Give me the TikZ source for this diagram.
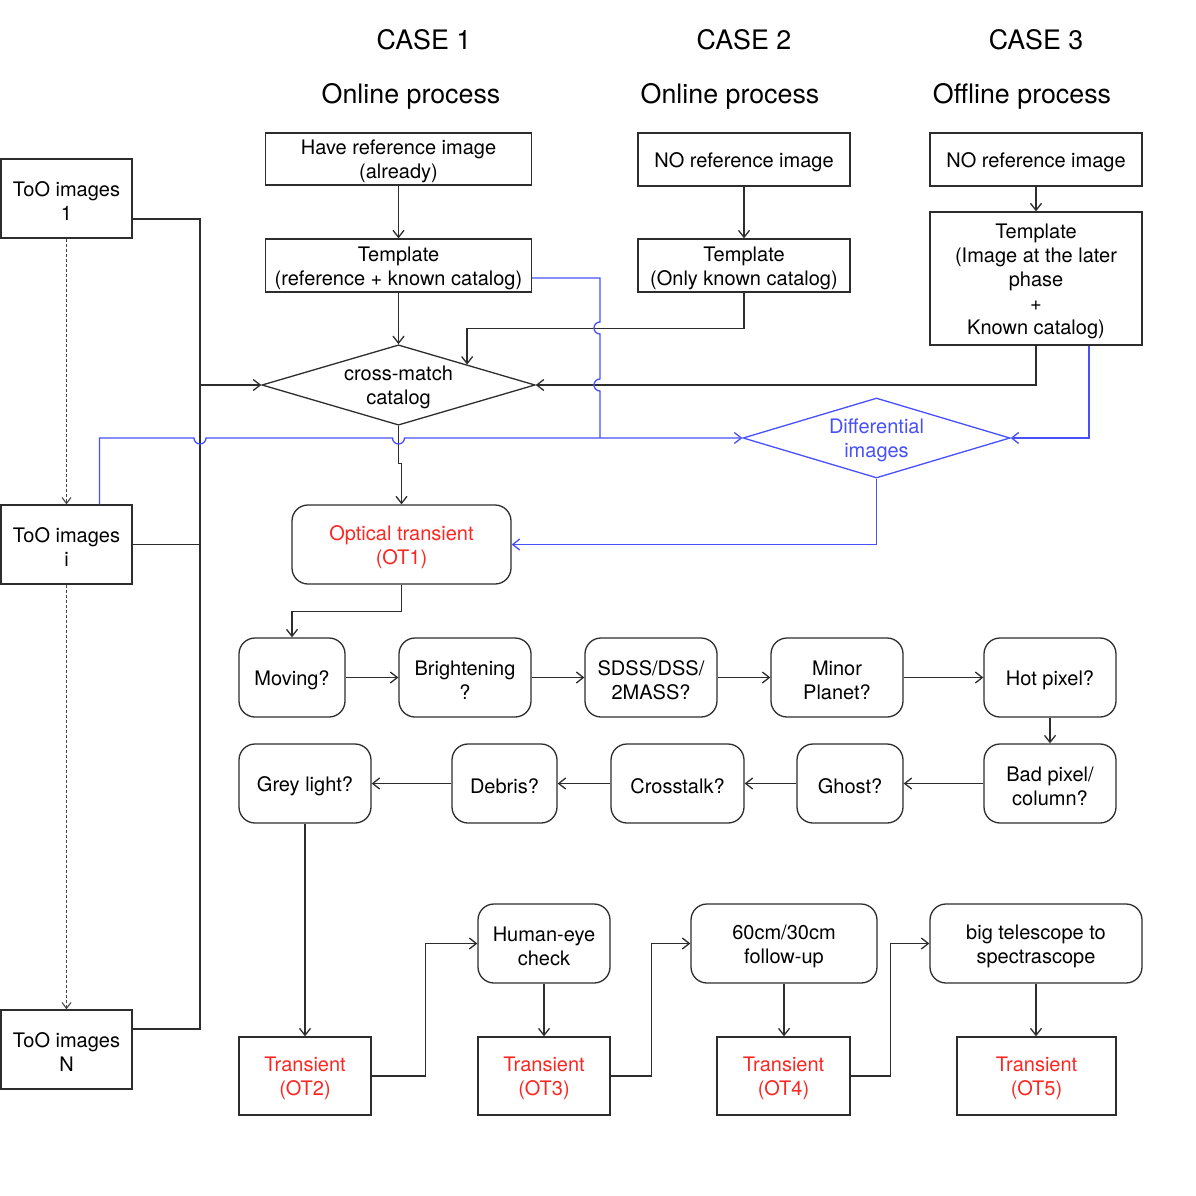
\documentclass[tikz,border=0pt]{standalone}
\usepackage{fontspec}
\setmainfont{TeX Gyre Heros}
\usepackage{tikz}
\usetikzlibrary{shapes.geometric, arrows.meta}
\definecolor{lineblue}{RGB}{72,80,250}
\definecolor{textred}{RGB}{250,40,35}
\definecolor{linegrey}{RGB}{45,45,45}
\definecolor{dotgrey}{RGB}{70,70,70}
\newcommand{\toprule}{\rule{0pt}{20pt}}

\begin{document}
\begin{tikzpicture}[x=1pt, y=-1pt,
  box/.style={rectangle, draw=linegrey, line width=1.3pt, inner sep=0pt, align=center, font=\fontsize{20}{24}\selectfont, execute at begin node={\toprule}},
  rbox/.style={box, rounded corners=16pt},
  dbox/.style={diamond, draw=linegrey, line width=1.3pt, inner sep=0pt, aspect=3.4, align=center, font=\fontsize{20}{24}\selectfont, execute at begin node={\toprule}},
  head/.style={font=\fontsize{26.8}{30}\selectfont},
  conn/.style={draw=linegrey, line width=1.3pt},
  arr/.style={conn, -{Straight Barb[length=7pt,width=11pt]}},
  bconn/.style={conn, draw=lineblue},
  barr/.style={arr, draw=lineblue},
  dotarr/.style={draw=dotgrey, line width=1.1pt, dash pattern=on 3pt off 2pt, -{Straight Barb[length=6pt,width=9pt]}}
]
\useasboundingbox (0,0) rectangle (1196,1196);

% headers
\node[head] (c1) at (424,40) {CASE 1};
\node[head] (p1) at (411,96.5) {Online process};
\node[head] (c2) at (744,40) {CASE 2};
\node[head] (p2) at (730,96.5) {Online process};
\node[head] (c3) at (1036,40) {CASE 3};
\node[head] (p3) at (1022,96.5) {Offline process};

% reference and template boxes
\node[box, minimum width=266pt, minimum height=52pt] (ref1) at (398.5,159) {\toprule Have reference image\\(already)};
\node[box, minimum width=266pt, minimum height=53pt] (tpl1) at (398.5,265.5) {\toprule Template\\(reference + known catalog)};
\node[box, minimum width=212pt, minimum height=53pt] (ref2) at (744,159.5) {NO reference image};
\node[box, minimum width=212pt, minimum height=53pt] (tpl2) at (744,265.5) {\toprule Template\\(Only known catalog)};
\node[box, minimum width=212pt, minimum height=53pt] (ref3) at (1036,159.5) {NO reference image};
\node[box, minimum width=212pt, minimum height=133pt] (tpl3) at (1036,278.5) {\toprule Template\\(Image at the later\\phase\\+\\Known catalog)};

% ToO images
\node[box, minimum width=131pt, minimum height=79pt] (too1) at (66.5,198.5) {\toprule ToO images\\1};
\node[box, minimum width=131pt, minimum height=79pt] (tooi) at (66.5,544.5) {\toprule ToO images\\i};
\node[box, minimum width=131pt, minimum height=79pt] (tooN) at (66.5,1049.5) {\toprule ToO images\\N};

% decisions
\node[dbox, minimum width=268pt, minimum height=78pt] (xmatch) at (398.5,385) {\toprule cross-match\\catalog};
\node[dbox, draw=lineblue, text=lineblue, minimum width=267pt, minimum height=80pt] (diff) at (876.5,438) {\toprule Differential\\images};

\node[rbox, text=textred, minimum width=219pt, minimum height=79pt] (ot1) at (401.5,544.5) {\toprule Optical transient\\(OT1)};

% checks
\node[rbox, minimum width=106pt, minimum height=79pt] (mov) at (292,677.5) {Moving?};
\node[rbox, minimum width=132pt, minimum height=79pt] (bri) at (465,677.5) {\toprule Brightening\\?};
\node[rbox, minimum width=132pt, minimum height=79pt] (sdss) at (651,677.5) {\toprule SDSS/DSS/\\2MASS?};
\node[rbox, minimum width=132pt, minimum height=79pt] (minor) at (837,677.5) {\toprule Minor\\Planet?};
\node[rbox, minimum width=132pt, minimum height=79pt] (hot) at (1050,677.5) {Hot pixel?};
\node[rbox, minimum width=132pt, minimum height=79pt] (bad) at (1050,783.5) {\toprule Bad pixel/\\column?};
\node[rbox, minimum width=106pt, minimum height=79pt] (ghost) at (850,783.5) {Ghost?};
\node[rbox, minimum width=133pt, minimum height=79pt] (xtalk) at (677.5,783.5) {Crosstalk?};
\node[rbox, minimum width=105pt, minimum height=79pt] (debris) at (504.5,783.5) {Debris?};
\node[rbox, minimum width=132pt, minimum height=79pt] (grey) at (305,783.5) {Grey light?};

% follow-up
\node[rbox, minimum width=132pt, minimum height=79pt] (eye) at (544,943.5) {\toprule Human-eye\\check};
\node[rbox, minimum width=186pt, minimum height=79pt] (fol) at (784,943.5) {\toprule 60cm/30cm\\follow-up};
\node[rbox, minimum width=212pt, minimum height=79pt] (big) at (1036,943.5) {\toprule big telescope to\\spectrascope};
\node[box, text=textred, minimum width=132pt, minimum height=78pt] (ot2) at (305,1076) {\toprule Transient\\(OT2)};
\node[box, text=textred, minimum width=132pt, minimum height=78pt] (ot3) at (544,1076) {\toprule Transient\\(OT3)};
\node[box, text=textred, minimum width=133pt, minimum height=78pt] (ot4) at (783.5,1076) {\toprule Transient\\(OT4)};
\node[box, text=textred, minimum width=159pt, minimum height=78pt] (ot5) at (1036.5,1076) {\toprule Transient\\(OT5)};

% template connectors
\draw[arr] (ref1) -- (tpl1);
\draw[arr] (tpl1) -- (xmatch);
\draw[arr] (ref2) -- (tpl2);
\draw[arr] (tpl2.south) -- ++(0,36) -| (xmatch.north east);
\draw[arr] (ref3) -- (tpl3);
\draw[arr] (tpl3.south) |- (xmatch.east);

% ToO bus
\coordinate (bustop) at (200,219);
\coordinate (busbot) at (200,1029);
\draw[conn] (too1.east |- bustop) -- (bustop) -- (busbot) -- (tooN.east |- busbot);
\draw[conn] (tooi.east) -- (tooi.east -| bustop);
\draw[arr] (xmatch.west -| bustop) -- (xmatch.west);
\draw[dotarr] (too1) -- (tooi);
\draw[dotarr] (tooi) -- (tooN);
\draw[arr] (xmatch.south) -- ++(0,38) -| (ot1.north);

% differential images (blue)
\coordinate (bjoin) at (600,438);
\draw[bconn] ([yshift=-12.5pt]tpl1.east) -- (bjoin |- 0,278)
  -- (600,322) arc[start angle=90, end angle=270, radius=6pt]
  -- (600,379) arc[start angle=90, end angle=270, radius=6pt] -- (bjoin);
\draw[barr] ([xshift=33pt]tooi.north) -- (99.5,438)
  -- (194,438) arc[start angle=180, end angle=360, radius=6pt]
  -- (392.5,438) arc[start angle=180, end angle=360, radius=6pt] -- (diff.west);
\draw[barr] ([xshift=53pt]tpl3.south) |- (diff.east);
\draw[barr] (diff.south) |- (ot1.east);

% checks chain
\draw[arr] (ot1.south) -- ++(0,27) -| (mov.north);
\draw[arr] (mov) -- (bri);
\draw[arr] (bri) -- (sdss);
\draw[arr] (sdss) -- (minor);
\draw[arr] (minor) -- (hot);
\draw[arr] (hot) -- (bad);
\draw[arr] (bad) -- (ghost);
\draw[arr] (ghost) -- (xtalk);
\draw[arr] (xtalk) -- (debris);
\draw[arr] (debris) -- (grey);
\draw[arr] (grey) -- (ot2);

% follow-up chain
\draw[arr] (ot2.east) -- ++(54,0) |- (eye.west);
\draw[arr] (eye) -- (ot3);
\draw[arr] (ot3.east) -- ++(41,0) |- (fol.west);
\draw[arr] (fol.south) -- (fol.south |- ot4.north);
\draw[arr] (ot4.east) -- ++(40,0) |- (big.west);
\draw[arr] (big.south) -- (big.south |- ot5.north);
\end{tikzpicture}
\end{document}
